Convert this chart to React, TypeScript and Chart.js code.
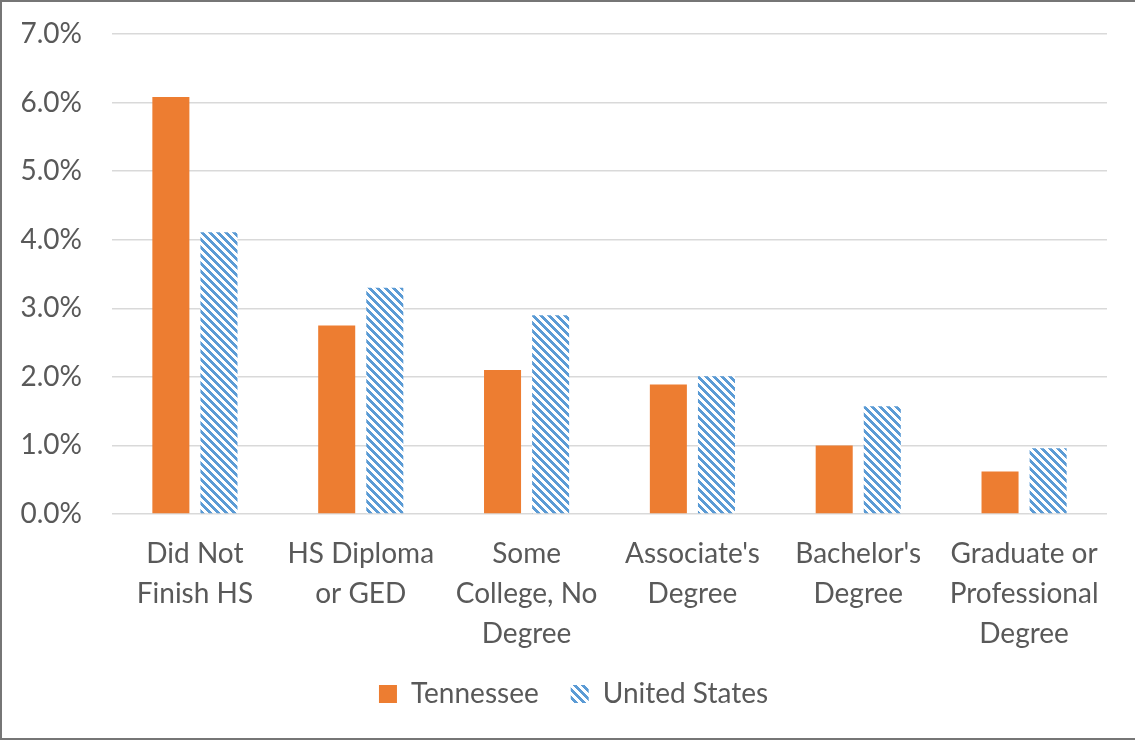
import React, { useEffect, useRef } from "react";
import { Chart, registerables } from "chart.js";

Chart.register(...registerables);

const categories: string[][] = [
  ["Did Not", "Finish HS"],
  ["HS Diploma", "or GED"],
  ["Some", "College, No", "Degree"],
  ["Associate's", "Degree"],
  ["Bachelor's", "Degree"],
  ["Graduate or", "Professional", "Degree"],
];
const tennessee: number[] = [6.08, 2.75, 2.1, 1.89, 1.0, 0.62];
const unitedStates: number[] = [4.11, 3.3, 2.9, 2.01, 1.57, 0.96];
const seriesNames = ["Tennessee", "United States"];

const FONT = "Lato, 'Open Sans', sans-serif";
const TEXT = "#595959";

function makePattern(): CanvasPattern | string {
  const c = document.createElement("canvas");
  c.width = 8;
  c.height = 8;
  const ctx = c.getContext("2d");
  if (!ctx) return "#5b9bd5";
  ctx.fillStyle = "#ffffff";
  ctx.fillRect(0, 0, 8, 8);
  ctx.fillStyle = "#5b9bd5";
  for (let y = 0; y < 8; y++) {
    for (let x = 0; x < 8; x++) {
      if ((((x - y) % 8) + 8) % 8 < 4) ctx.fillRect(x, y, 1, 1);
    }
  }
  const p = ctx.createPattern(c, "repeat");
  return p || "#5b9bd5";
}

const legendPlacer = {
  id: "legendPlacer",
  afterLayout(chart: any) {
    const l = chart.legend;
    if (!l) return;
    const h = l.bottom - l.top;
    l.top = 648;
    l.bottom = 648 + h;
    l.left += 20;
    l.right += 20;
  },
};

export default function App() {
  const ref = useRef<HTMLCanvasElement | null>(null);
  useEffect(() => {
    if (!ref.current) return;
    const pattern = makePattern();
    const chart = new Chart(ref.current, {
      type: "bar",
      data: {
        labels: categories,
        datasets: [
          {
            label: seriesNames[0],
            data: tennessee,
            backgroundColor: "#ed7d31",
            borderWidth: 0,
            categoryPercentage: 0.58,
            barPercentage: 0.77,
          },
          {
            label: seriesNames[1],
            data: unitedStates,
            backgroundColor: pattern as any,
            borderWidth: 0,
            categoryPercentage: 0.58,
            barPercentage: 0.77,
          },
        ],
      },
      plugins: [legendPlacer],
      options: {
        responsive: false,
        animation: false,
        layout: { padding: { top: 34, left: 0, right: 28, bottom: 16 } },
        plugins: {
          tooltip: { enabled: false },
          legend: {
            position: "bottom",
            labels: {
              font: { family: FONT, size: 28 },
              color: TEXT,
              boxWidth: 18,
              boxHeight: 18,
              padding: 32,
            },
          },
        },
        scales: {
          x: {
            grid: { display: false },
            border: { display: false },
            ticks: {
              color: TEXT,
              font: { family: FONT, size: 28, lineHeight: 40 / 28 },
              padding: 12,
              maxRotation: 0,
              autoSkip: false,
            },
            afterFit: (s: any) => {
              s.height = 140;
            },
          },
          y: {
            min: 0,
            max: 7,
            grid: { color: "#d9d9d9", lineWidth: 1.5, drawTicks: false },
            border: { display: false },
            ticks: {
              stepSize: 1,
              color: TEXT,
              font: { family: FONT, size: 28 },
              padding: 30,
              callback: (v: any) => Number(v).toFixed(1) + "%",
            },
            afterFit: (s: any) => {
              s.width = 112;
              s.paddingTop = 0;
              s.paddingBottom = 0;
            },
          },
        },
      },
    });
    return () => chart.destroy();
  }, []);
  return (
    <div style={{ position: "fixed", left: 0, top: 0, width: 1135, height: 740, background: "#fff" }}>
      <canvas ref={ref} width={1135} height={740} style={{ position: "absolute", left: 0, top: 0 }} />
      <div
        style={{
          position: "absolute",
          left: 0,
          top: 0,
          width: 1135,
          height: 740,
          boxSizing: "border-box",
          borderTop: "2px solid #767676",
          borderLeft: "2px solid #767676",
          borderBottom: "2px solid #767676",
          pointerEvents: "none",
        }}
      />
    </div>
  );
}
